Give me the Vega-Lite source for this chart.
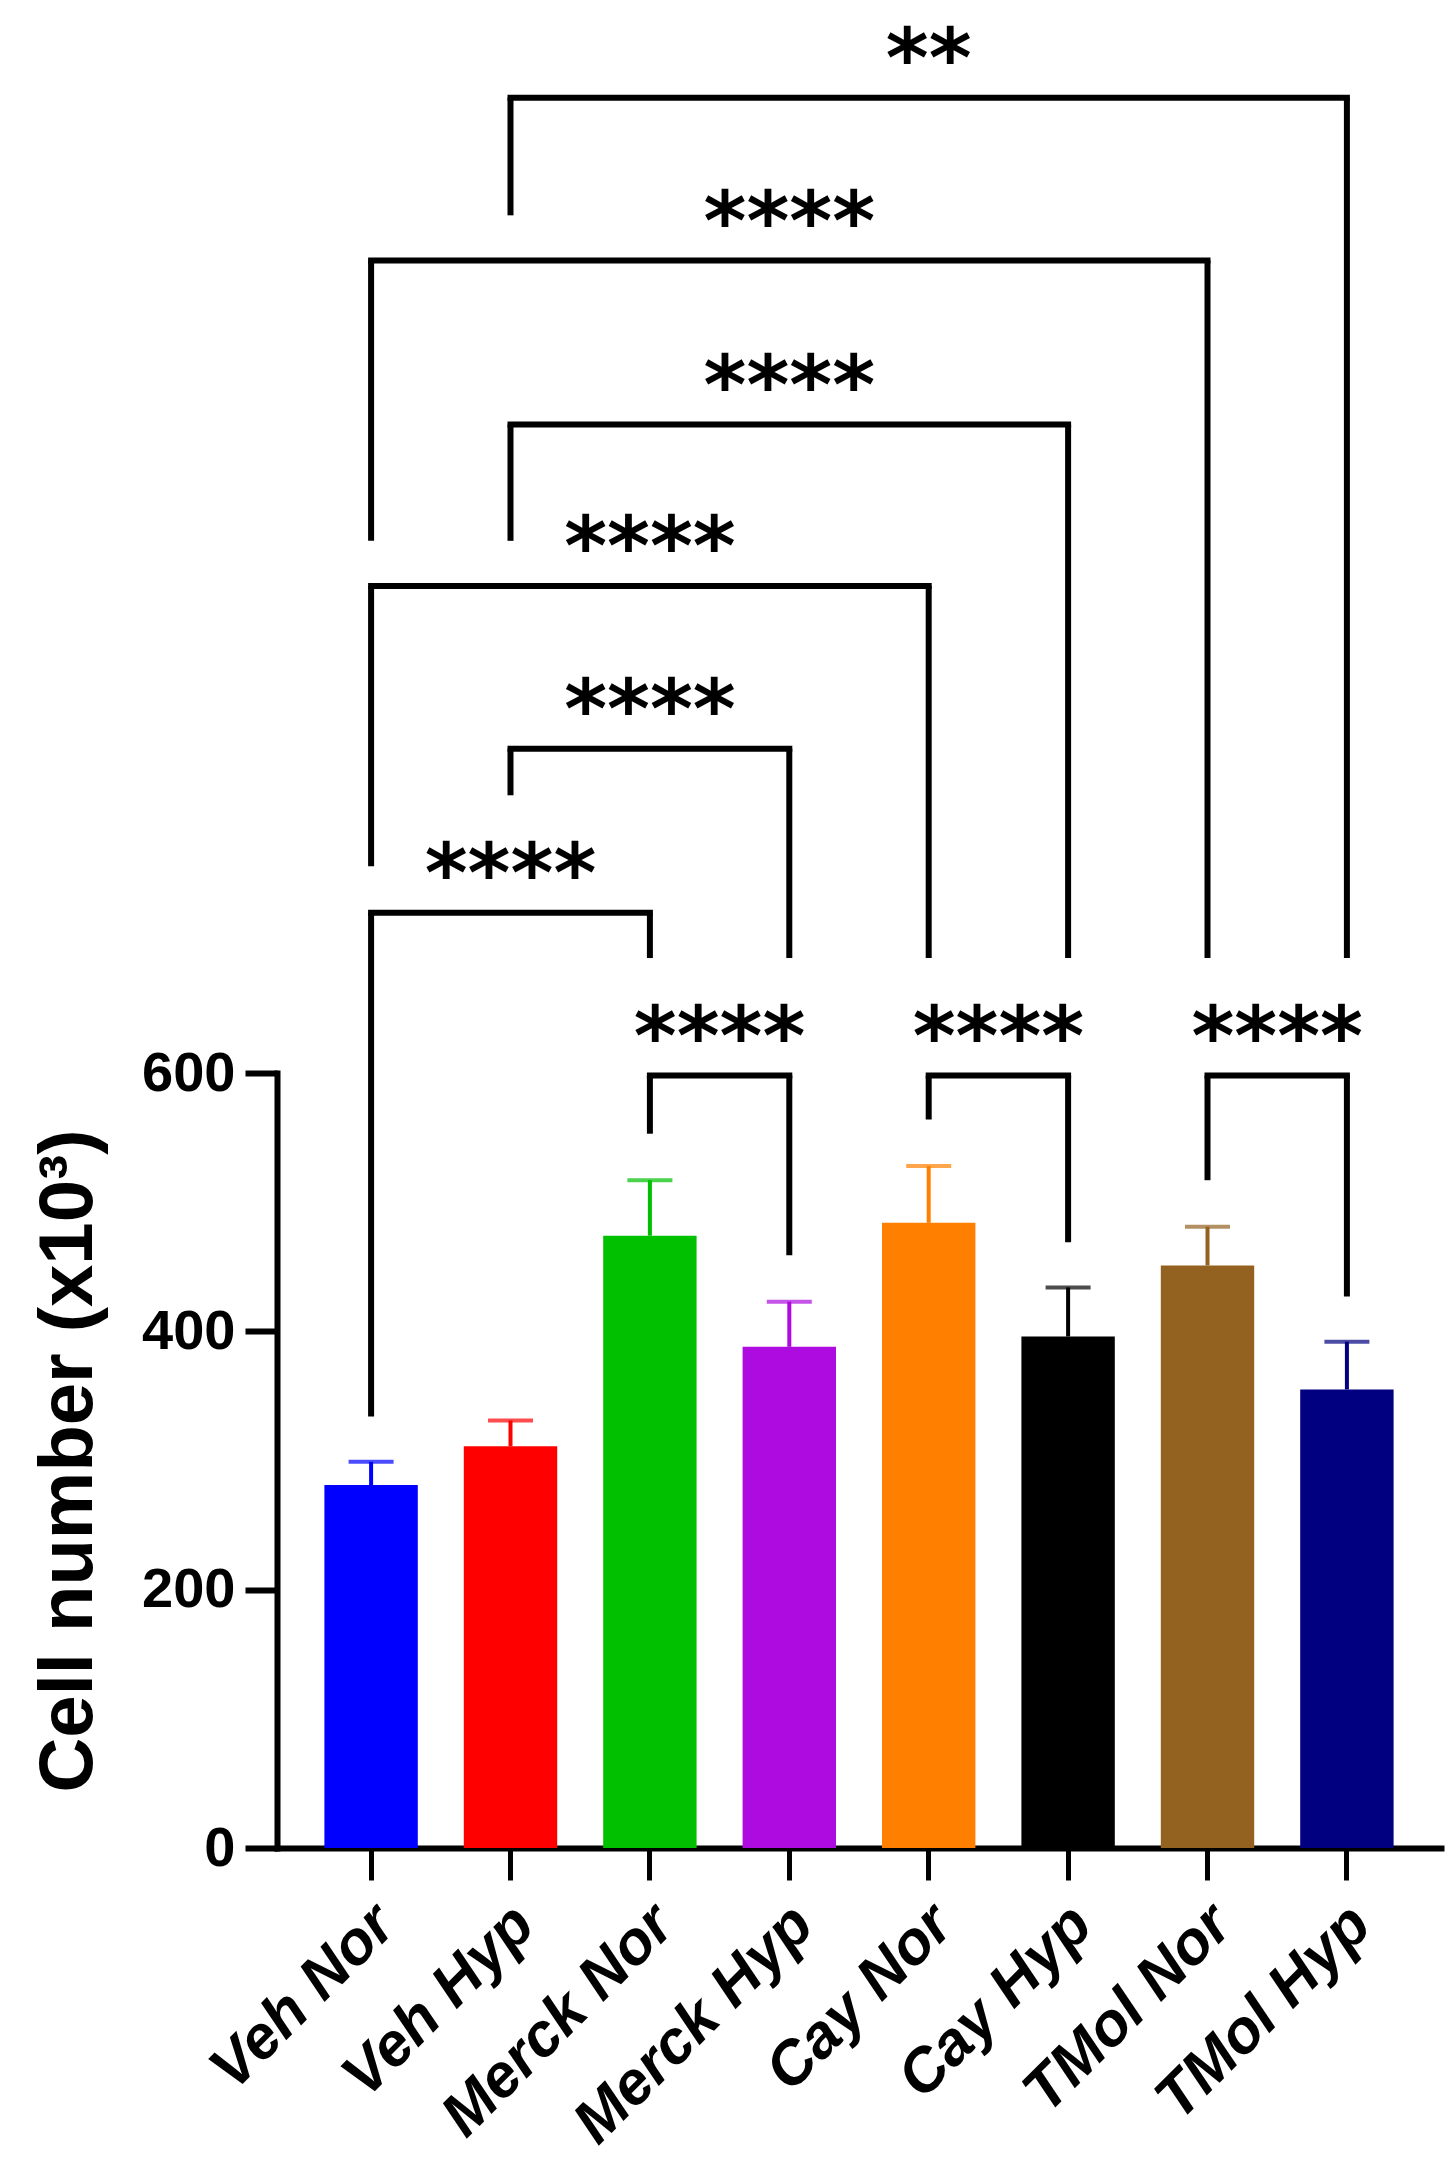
{
  "$schema": "https://vega.github.io/schema/vega-lite/v6.json",
  "autosize": {"type": "none"},
  "padding": {"left": 277, "top": 1073, "right": 10, "bottom": 315},
  "width": 1164,
  "height": 775,
  "background": "white",
  "config": {"view": {"stroke": null}},
  "datasets": {
    "bars": [
      {"group": "Veh Nor", "mean": 281, "upper": 299},
      {"group": "Veh Hyp", "mean": 311, "upper": 331},
      {"group": "Merck Nor", "mean": 474, "upper": 517},
      {"group": "Merck Hyp", "mean": 388, "upper": 423},
      {"group": "Cay Nor", "mean": 484, "upper": 528},
      {"group": "Cay Hyp", "mean": 396, "upper": 434},
      {"group": "TMol Nor", "mean": 451, "upper": 481},
      {"group": "TMol Hyp", "mean": 355, "upper": 392}
    ],
    "brackets": [
      {"a": "Veh Hyp", "b": "TMol Hyp", "h": 1355, "la": 1264, "lb": 689, "mid": "Cay Nor", "label": "**", "adjacent": false},
      {"a": "Veh Nor", "b": "TMol Nor", "h": 1229, "la": 1012, "lb": 689, "mid": "Merck Hyp", "label": "****", "adjacent": false},
      {"a": "Veh Hyp", "b": "Cay Hyp", "h": 1102, "la": 1012, "lb": 689, "mid": "Merck Hyp", "label": "****", "adjacent": false},
      {"a": "Veh Nor", "b": "Cay Nor", "h": 977, "la": 760, "lb": 689, "mid": "Merck Nor", "label": "****", "adjacent": false},
      {"a": "Veh Hyp", "b": "Merck Hyp", "h": 851, "la": 815, "lb": 689, "mid": "Merck Nor", "label": "****", "adjacent": false},
      {"a": "Veh Nor", "b": "Merck Nor", "h": 724, "la": 334, "lb": 689, "mid": "Veh Hyp", "label": "****", "adjacent": false},
      {"a": "Merck Nor", "b": "Merck Hyp", "h": 598, "la": 553, "lb": 459, "mid": "Merck Nor", "label": "****", "adjacent": true},
      {"a": "Cay Nor", "b": "Cay Hyp", "h": 598, "la": 564, "lb": 469, "mid": "Cay Nor", "label": "****", "adjacent": true},
      {"a": "TMol Nor", "b": "TMol Hyp", "h": 598, "la": 517, "lb": 427, "mid": "TMol Nor", "label": "****", "adjacent": true}
    ]
  },
  "layer": [
    {
      "data": {"name": "bars"},
      "mark": {"type": "bar", "clip": false},
      "encoding": {
        "x": {
          "field": "group", "type": "nominal",
          "scale": {"domain": ["Veh Nor", "Veh Hyp", "Merck Nor", "Merck Hyp", "Cay Nor", "Cay Hyp", "TMol Nor", "TMol Hyp"], "paddingInner": 0.33, "paddingOuter": 0.34},
          "axis": {
            "title": null, "labelAngle": -45, "labelFont": "Liberation Sans", "labelFontSize": 61,
            "labelFontWeight": "bold", "labelFontStyle": "italic", "labelColor": "black", "labelLimit": 0,
            "tickSize": 32, "tickWidth": 5, "tickColor": "black", "domainColor": "black",
            "domainWidth": 6, "domainCap": "square", "labelPadding": 14, "labelOffset": -7
          }
        },
        "y": {
          "field": "mean", "type": "quantitative",
          "scale": {"domain": [0, 600], "nice": false},
          "axis": {
            "values": [0, 200, 400, 600], "grid": false, "title": "Cell number (x10³)",
            "titleFont": "Liberation Sans", "titleFontSize": 76, "titleFontWeight": "bold", "titleColor": "black",
            "titlePadding": 34,
            "labelFont": "Liberation Sans", "labelFontSize": 56, "labelFontWeight": "bold", "labelColor": "black",
            "labelPadding": 10, "tickSize": 32, "tickWidth": 6, "tickColor": "black",
            "domainColor": "black", "domainWidth": 6, "domainCap": "square"
          }
        },
        "color": {
          "field": "group", "type": "nominal", "legend": null,
          "scale": {
            "domain": ["Veh Nor", "Veh Hyp", "Merck Nor", "Merck Hyp", "Cay Nor", "Cay Hyp", "TMol Nor", "TMol Hyp"],
            "range": ["#0000FF", "#FF0000", "#00C000", "#AE0BE0", "#FF8000", "#000000", "#946220", "#000080"]
          }
        }
      }
    },
    {
      "data": {"name": "bars"},
      "mark": {"type": "rule", "strokeWidth": 4, "clip": false},
      "encoding": {
        "x": {"field": "group", "type": "nominal"},
        "y": {"field": "mean", "type": "quantitative"},
        "y2": {"field": "upper"},
        "color": {"field": "group", "type": "nominal", "legend": null}
      }
    },
    {
      "data": {"name": "bars"},
      "mark": {"type": "tick", "size": 45, "thickness": 4, "clip": false},
      "encoding": {
        "x": {"field": "group", "type": "nominal"},
        "y": {"field": "upper", "type": "quantitative"},
        "color": {"field": "group", "type": "nominal", "legend": null}
      }
    },
    {
      "data": {"name": "brackets"},
      "mark": {"type": "rule", "strokeWidth": 6, "color": "black", "strokeCap": "square", "clip": false},
      "encoding": {
        "x": {"field": "a", "type": "nominal"},
        "x2": {"field": "b"},
        "y": {"field": "h", "type": "quantitative"}
      }
    },
    {
      "data": {"name": "brackets"},
      "mark": {"type": "rule", "strokeWidth": 6, "color": "black", "clip": false},
      "encoding": {
        "x": {"field": "a", "type": "nominal"},
        "y": {"field": "la", "type": "quantitative"},
        "y2": {"field": "h"}
      }
    },
    {
      "data": {"name": "brackets"},
      "mark": {"type": "rule", "strokeWidth": 6, "color": "black", "clip": false},
      "encoding": {
        "x": {"field": "b", "type": "nominal"},
        "y": {"field": "lb", "type": "quantitative"},
        "y2": {"field": "h"}
      }
    },
    {
      "data": {"name": "brackets"},
      "transform": [{"filter": "!datum.adjacent"}],
      "mark": {"type": "text", "font": "DejaVu Sans", "fontWeight": "bold", "fontSize": 82, "color": "black", "baseline": "alphabetic", "align": "center", "dy": -11, "clip": false},
      "encoding": {
        "x": {"field": "mid", "type": "nominal"},
        "y": {"field": "h", "type": "quantitative"},
        "text": {"field": "label"}
      }
    },
    {
      "data": {"name": "brackets"},
      "transform": [{"filter": "datum.adjacent"}],
      "mark": {"type": "text", "font": "DejaVu Sans", "fontWeight": "bold", "fontSize": 82, "color": "black", "baseline": "alphabetic", "align": "center", "dx": 69.7, "dy": -11, "clip": false},
      "encoding": {
        "x": {"field": "mid", "type": "nominal"},
        "y": {"field": "h", "type": "quantitative"},
        "text": {"field": "label"}
      }
    }
  ]
}
